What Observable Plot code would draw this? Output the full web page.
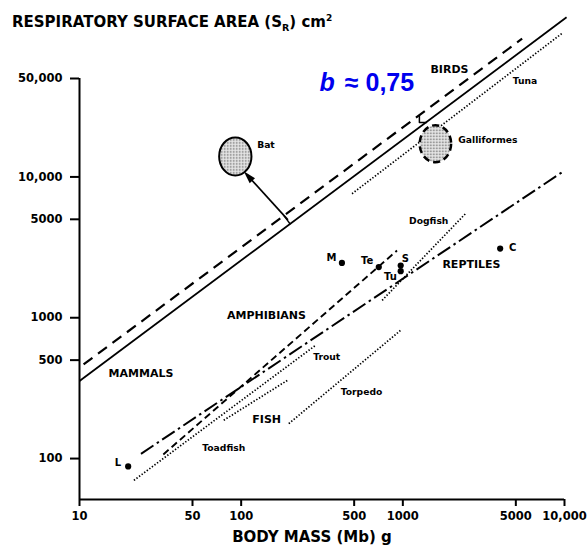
<!DOCTYPE html>
<html>
<head>
<meta charset="utf-8">
<script src="https://cdn.jsdelivr.net/npm/d3@7"></script>
<script src="https://cdn.jsdelivr.net/npm/@observablehq/plot@0.6"></script>
<style>
  html, body { margin: 0; padding: 0; background: #fff; }
</style>
</head>
<body>
<div id="chart"></div>
<script>
// ---- axis ticks ----
const xTicks = [10, 50, 100, 500, 1000, 5000, 10000];
const xTickLabels = ["10", "50", "100", "500", "1000", "5000", "10,000"];
const yTicks = [100, 500, 1000, 5000, 10000, 50000];
const yTickLabels = ["100", "500", "1000", "5000", "10,000", "50,000"];

// ---- regression lines (body mass g, surface cm2) ----
const mammalsMass = [10, 10300],   mammalsArea = [355, 136000];
const birdsMass = [10.6, 5470],    birdsArea = [466, 95800];
const tunaMass = [485, 9800],      tunaArea = [7600, 106000];
const reptilesMass = [24, 9660],   reptilesArea = [108, 10800];
const amphibiansMass = [33, 920],  amphibiansArea = [107, 3000];
const dogfishMass = [745, 2440],   dogfishArea = [1330, 5480];
const troutMass = [21.7, 288],     troutArea = [70, 636];
const toadfishMass = [78, 193],    toadfishArea = [187, 359];
const torpedoMass = [197, 966],    torpedoArea = [177, 812];

// ---- individual reptile points ----
const reptileNames = ["L", "M", "Te", "S", "Tu", "C"];
const reptileMass = [20, 420, 710, 970, 970, 4000];
const reptileArea = [88, 2450, 2290, 2350, 2140, 3100];
const reptileLabelMass = [17.3, 362, 602, 1038, 838, 4780];
const reptileLabelArea = [93.4, 2670, 2550, 2620, 1943, 3120];

// ---- shaded groups (ellipses) ----
const groupNames = ["Bat", "Galliformes"];
const groupMass = [92, 1590];
const groupArea = [13980, 17210];

// ---- bat arrow and brackets ----
const batBracketMass = [183.4, 201.7], batBracketArea = [5330, 4600];
const batArrowMass = [194.7, 112],     batArrowArea = [4950, 9950];
const galBracketMass = [1266, 1266, 1400], galBracketArea = [27340, 24380, 24380];

// ---- text labels ----
const bigLabels = ["BIRDS", "MAMMALS", "AMPHIBIANS", "REPTILES", "FISH"];
const bigLabelMass = [1942, 24.0, 143.3, 2657, 143.8];
const bigLabelArea = [57720, 400, 1038, 2379, 188.6];
const smallLabels = ["Tuna", "Galliformes", "Bat", "Dogfish", "Trout", "Torpedo", "Toadfish"];
const smallLabelMass = [5690, 3360, 142.3, 1446, 338, 555, 78];
const smallLabelArea = [47890, 18160, 16930, 4854, 525, 296, 119.3];

const yMin = 51.2;
const line = (m, a) => m.map((v, i) => ({mass: v, area: a[i]}));
const pts = (names, m, a) => names.map((n, i) => ({name: n, mass: m[i], area: a[i]}));

// ellipse symbol (rx/ry)
const ellipseSymbol = {
  draw(ctx, size) {
    const ry = Math.sqrt(size / Math.PI), rx = ry * 0.85, k = 0.5523;
    ctx.moveTo(rx, 0);
    ctx.bezierCurveTo(rx, ry * k, rx * k, ry, 0, ry);
    ctx.bezierCurveTo(-rx * k, ry, -rx, ry * k, -rx, 0);
    ctx.bezierCurveTo(-rx, -ry * k, -rx * k, -ry, 0, -ry);
    ctx.bezierCurveTo(rx * k, -ry, rx, -ry * k, rx, 0);
    ctx.closePath();
  }
};
// slender arrowhead symbol pointing up (tip at -h)
const headSymbol = {
  draw(ctx, size) {
    const r = Math.sqrt(size / Math.PI);
    ctx.moveTo(0, -r);
    ctx.lineTo(r * 0.45, r * 0.6);
    ctx.lineTo(-r * 0.45, r * 0.6);
    ctx.closePath();
  }
};

const base = {x: "mass", y: "area", stroke: "#000", strokeLinecap: "butt"};
const dotted = {strokeDasharray: "1.4,1.8", strokeWidth: 1.7};

function build(headRotate) {
  return Plot.plot({
    width: 587,
    height: 547,
    marginLeft: 79,
    marginRight: 23,
    marginTop: 78,
    marginBottom: 48,
    style: {fontFamily: "'DejaVu Sans', sans-serif", fontWeight: "bold", fontSize: "11.5px", background: "#fff", color: "#000"},
    x: {type: "log", domain: [10, 10000]},
    y: {type: "log", domain: [yMin, 50000]},
    marks: [
      Plot.ruleX([10], {strokeWidth: 2}),
      Plot.ruleY([yMin], {strokeWidth: 2}),
      Plot.axisX({ticks: xTicks, tickFormat: () => "", tickSize: 7, strokeWidth: 2, label: null}),
      Plot.axisY({ticks: yTicks, tickFormat: () => "", tickSize: 9, strokeWidth: 2, label: null}),
      Plot.text(xTicks, {x: d => d, y: () => yMin, text: (d, i) => xTickLabels[i], dy: 12, lineAnchor: "top", fontSize: 11.5, fill: "#000"}),
      Plot.text(yTicks, {x: () => 10, y: d => d, text: (d, i) => yTickLabels[i], dx: -17, textAnchor: "end", fontSize: 11.5, fill: "#000"}),

      Plot.line(line(mammalsMass, mammalsArea), {...base, strokeWidth: 1.8}),
      Plot.line(line(birdsMass, birdsArea), {...base, strokeWidth: 2.2, strokeDasharray: "11,7"}),
      Plot.line(line(tunaMass, tunaArea), {...base, ...dotted}),
      Plot.line(line(reptilesMass, reptilesArea), {...base, strokeWidth: 2, strokeDasharray: "15,4,2.5,4"}),
      Plot.line(line(amphibiansMass, amphibiansArea), {...base, strokeWidth: 1.9, strokeDasharray: "7,4"}),
      Plot.line(line(dogfishMass, dogfishArea), {...base, ...dotted}),
      Plot.line(line(troutMass, troutArea), {...base, ...dotted}),
      Plot.line(line(toadfishMass, toadfishArea), {...base, ...dotted}),
      Plot.line(line(torpedoMass, torpedoArea), {...base, ...dotted}),

      // ellipses
      Plot.dot(pts(groupNames.slice(0, 1), groupMass.slice(0, 1), groupArea.slice(0, 1)), {x: "mass", y: "area", r: 19, symbol: ellipseSymbol, fill: "url(#stip)", stroke: "#000", strokeWidth: 2}),
      Plot.dot(pts(groupNames.slice(1), groupMass.slice(1), groupArea.slice(1)), {x: "mass", y: "area", r: 18.5, symbol: ellipseSymbol, fill: "url(#stip)", stroke: "#000", strokeWidth: 2.5, strokeDasharray: "7,4"}),

      // bat bracket & arrow
      Plot.link([0], {x1: () => batBracketMass[0], y1: () => batBracketArea[0], x2: () => batBracketMass[1], y2: () => batBracketArea[1], stroke: "#000", strokeWidth: 1.5}),
      Plot.link([0], {x1: () => batArrowMass[0], y1: () => batArrowArea[0], x2: () => batArrowMass[1], y2: () => batArrowArea[1], stroke: "#000", strokeWidth: 1.7}),
      Plot.dot([0], {x: () => batArrowMass[1], y: () => batArrowArea[1], r: 8, symbol: headSymbol, rotate: headRotate, fill: "#000", stroke: "none"}),
      Plot.line(line(galBracketMass, galBracketArea), {x: "mass", y: "area", stroke: "#000", strokeWidth: 1.5}),

      // reptile points
      Plot.dot(pts(reptileNames, reptileMass, reptileArea), {x: "mass", y: "area", r: 3.1, fill: "#000"}),
      Plot.text(pts(reptileNames, reptileLabelMass, reptileLabelArea), {x: "mass", y: "area", text: "name", fontSize: 10, fill: "#000"}),

      // labels
      Plot.text(pts(bigLabels, bigLabelMass, bigLabelArea), {x: "mass", y: "area", text: "name", fontSize: 11, fill: "#000"}),
      Plot.text(pts(smallLabels, smallLabelMass, smallLabelArea), {x: "mass", y: "area", text: "name", fontSize: 9.2, fill: "#000"}),

      // slope annotation
      Plot.text(["b"], {x: () => 340, y: () => 46370, fontFamily: "'Liberation Sans', Arial, sans-serif", fontSize: 25, fontStyle: "italic", fontWeight: "bold", fill: "#0000ee"}),
      Plot.text(["≈ 0,75"], {x: () => 717, y: () => 46370, fontFamily: "'Liberation Sans', Arial, sans-serif", fontSize: 25, fontWeight: "bold", fill: "#0000ee"})
    ]
  });
}

// first pass to get scales, then orient the arrowhead along the arrow
const probe = build(0);
const sx = probe.scale("x"), sy = probe.scale("y");
const ddx = sx.apply(batArrowMass[1]) - sx.apply(batArrowMass[0]);
const ddy = sy.apply(batArrowArea[1]) - sy.apply(batArrowArea[0]);
const rot = Math.atan2(ddx, -ddy) * 180 / Math.PI;
const svg = build(rot);

// stipple pattern for shaded ellipses
const s = d3.select(svg);
const pat = s.insert("defs", ":first-child").append("pattern")
  .attr("id", "stip").attr("patternUnits", "userSpaceOnUse").attr("width", 3).attr("height", 3);
pat.append("rect").attr("width", 3).attr("height", 3).attr("fill", "#e4e4e4");
pat.append("circle").attr("cx", 1.5).attr("cy", 1.5).attr("r", 0.75).attr("fill", "#555");

// axis titles
const t = s.append("text").attr("x", 12).attr("y", 27).attr("text-anchor", "start")
  .style("font-family", "'DejaVu Sans', sans-serif").style("font-weight", "bold").style("font-size", "15px").attr("fill", "#000");
t.append("tspan").text("RESPIRATORY SURFACE AREA (S");
t.append("tspan").attr("dy", 4).style("font-size", "9.5px").text("R");
t.append("tspan").attr("dy", -4).text(") cm");
t.append("tspan").attr("dy", -6).style("font-size", "9px").text("2");

s.append("text").attr("x", 312).attr("y", 542).attr("text-anchor", "middle")
  .style("font-family", "'DejaVu Sans', sans-serif").style("font-weight", "bold").style("font-size", "15px").attr("fill", "#000")
  .text("BODY MASS (Mb) g");

document.getElementById("chart").appendChild(svg);
</script>
</body>
</html>
